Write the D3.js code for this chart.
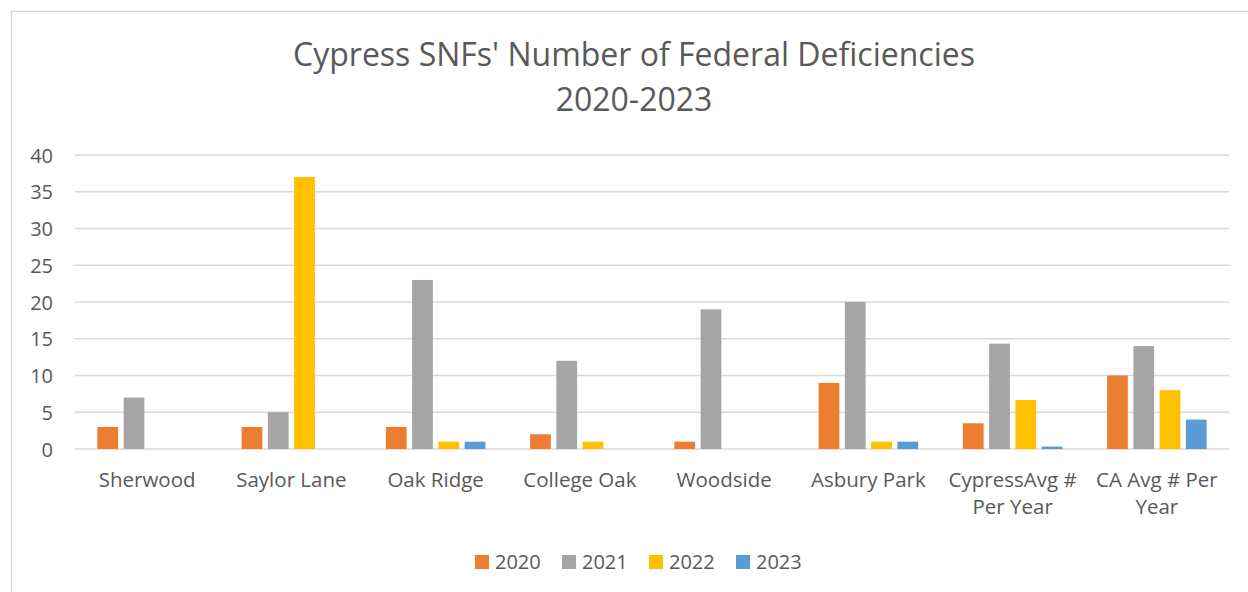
<!DOCTYPE html>
<html>
<head>
<meta charset="utf-8">
<script src="https://cdn.jsdelivr.net/npm/d3@7"></script>
<style>
  html, body { margin: 0; padding: 0; background: #fff; }
  svg { display: block; font-family: "Open Sans", "Noto Sans", sans-serif; }
</style>
</head>
<body>
<svg id="chart" width="1248" height="592"></svg>
<script>
const categories = ["Sherwood", "Saylor Lane", "Oak Ridge", "College Oak", "Woodside", "Asbury Park", "CypressAvg # Per Year", "CA Avg # Per Year"];
const categoryLabels = [["Sherwood"], ["Saylor Lane"], ["Oak Ridge"], ["College Oak"], ["Woodside"], ["Asbury Park"], ["CypressAvg #", "Per Year"], ["CA Avg # Per", "Year"]];
const years = ["2020", "2021", "2022", "2023"];
const values2020 = [3, 3, 3, 2, 1, 9, 3.5, 10];
const values2021 = [7, 5, 23, 12, 19, 20, 14.33, 14];
const values2022 = [0, 37, 1, 1, 0, 1, 6.67, 8];
const values2023 = [0, 0, 1, 0, 0, 1, 0.33, 4];
const yTicks = [0, 5, 10, 15, 20, 25, 30, 35, 40];
const titleLines = ["Cypress SNFs' Number of Federal Deficiencies", "2020-2023"];

const seriesValues = [values2020, values2021, values2022, values2023];
const colors = ["#ED7D31", "#A5A5A5", "#FFC000", "#5B9BD5"];

const svg = d3.select("#chart");
const textColor = "#595959";
const gridColor = "#D9D9D9";

// chart border
svg.append("rect")
  .attr("x", 11.5).attr("y", 11.5)
  .attr("width", 1260).attr("height", 600)
  .attr("fill", "none").attr("stroke", gridColor).attr("stroke-width", 1.3);

const plot = { left: 75, right: 1229, top: 155, bottom: 449 };

const x0 = d3.scaleBand().domain(categories).range([plot.left, plot.right]).padding(0);
const bw = x0.bandwidth();
const x1 = d3.scaleBand().domain(years).range([bw * 0.155, bw * 0.845]).paddingInner(0.21);
const y = d3.scaleLinear().domain([0, 40]).range([plot.bottom, plot.top]);

// gridlines
svg.append("g").selectAll("line").data(yTicks).join("line")
  .attr("x1", plot.left).attr("x2", plot.right)
  .attr("y1", d => y(d)).attr("y2", d => y(d))
  .attr("stroke", gridColor).attr("stroke-width", 1.3);

// y axis labels
const yAxis = d3.axisLeft(y).tickValues(yTicks).tickSize(0).tickPadding(0).tickFormat(d3.format("d"));
const yg = svg.append("g").attr("transform", `translate(${53},0)`).call(yAxis);
yg.select(".domain").remove();
yg.selectAll("text").attr("fill", textColor).attr("font-size", 20)
  .attr("font-family", "'Open Sans', sans-serif").attr("dy", "0.35em");

// bars
const groups = svg.append("g").selectAll("g").data(categories).join("g")
  .attr("transform", d => `translate(${x0(d)},0)`);

groups.selectAll("rect")
  .data((c, i) => years.map((yr, s) => ({ yr, s, v: seriesValues[s][i] })))
  .join("rect")
  .attr("x", d => x1(d.yr))
  .attr("width", x1.bandwidth())
  .attr("y", d => y(d.v))
  .attr("height", d => y(0) - y(d.v))
  .attr("fill", d => colors[d.s]);

// category labels
const catG = svg.append("g");
categories.forEach((c, i) => {
  const t = catG.append("text")
    .attr("x", x0(c) + bw / 2)
    .attr("y", 487)
    .attr("text-anchor", "middle")
    .attr("font-size", 20.5)
    .attr("fill", textColor);
  categoryLabels[i].forEach((line, j) => {
    t.append("tspan").attr("x", x0(c) + bw / 2).attr("dy", j === 0 ? 0 : 27).text(line);
  });
});

// title
const title = svg.append("text")
  .attr("x", 634).attr("y", 66)
  .attr("text-anchor", "middle")
  .attr("font-size", 32)
  .attr("font-weight", 400)
  .attr("fill", textColor);
titleLines.forEach((line, j) => {
  title.append("tspan").attr("x", 634).attr("dy", j === 0 ? 0 : 45).text(line);
});

// legend
const legendX = d3.scalePoint().domain(years).range([475, 736]);
const lg = svg.append("g").selectAll("g").data(years).join("g")
  .attr("transform", d => `translate(${legendX(d)},555)`);
lg.append("rect").attr("width", 14).attr("height", 14).attr("fill", (d, i) => colors[i]);
lg.append("text").attr("x", 20).attr("y", 14).attr("font-size", 20)
  .attr("fill", textColor).text(d => d);
</script>
</body>
</html>
